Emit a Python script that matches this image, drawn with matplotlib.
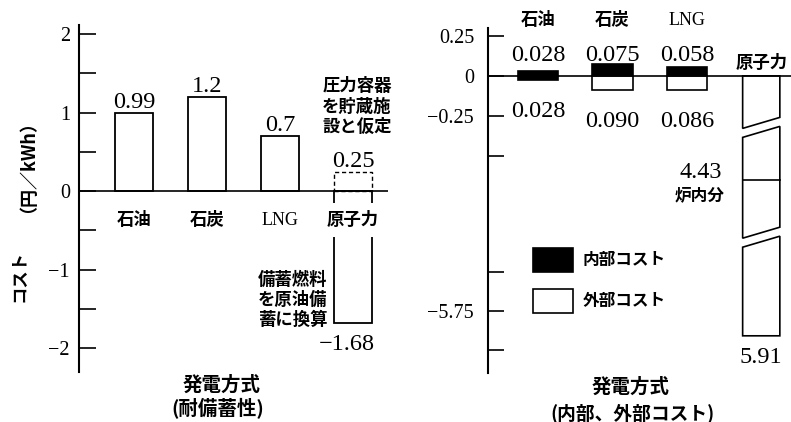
import numpy as np
import matplotlib
matplotlib.use('Agg')
import matplotlib.pyplot as plt
from matplotlib.patches import Polygon, Patch
from matplotlib.transforms import IdentityTransform
from matplotlib.font_manager import FontProperties

# ---------------- data ----------------
left_categories = ['石油', '石炭', 'LNG', '原子力']
left_values = [0.99, 1.2, 0.7, -1.68]
nuclear_storage_value = 0.25
left_yticks = [-2, -1.5, -1, -0.5, 0, 0.5, 1, 1.5, 2]
left_yticklabels = ['−2', '', '−1', '', '0', '', '1', '', '2']

right_categories = ['石油', '石炭', 'LNG']
internal_cost = [0.028, 0.075, 0.058]
external_cost = [0.028, 0.090, 0.086]
nuclear_label = '原子力'
nuclear_total = 5.91
nuclear_core = 4.43
right_yticks = [0.25, 0, -0.25, -0.5, -5.5, -5.75, -6.0]
right_yticklabels = ['0.25', '0', '−0.25', '', '', '−5.75', '']

# broken-axis scale nodes (value -> vertical pixel position)
scale_vals = [-100.0, -6.15, -5.5, -4.43, -0.5, 0.3, 100.0]
scale_pix = [-373 - 93.85 * 156, -373, -272, -179, -155, -27, -27 + 99.7 * 160]

# ---------------- style ----------------
plt.rcParams['font.family'] = ['Liberation Serif', 'Noto Sans CJK JP', 'DejaVu Sans']
CJK = ['Noto Sans CJK JP', 'DejaVu Sans']
W, H = 791, 422
PT = 0.72  # px -> pt at 100 dpi
NUM = 17.5
TICK = 14.5

fig = plt.figure(figsize=(W / 100, H / 100), dpi=100)


def fx(px):
    return px / W


def fy(py):
    return 1 - py / H


def cjk(size=12.5, **kw):
    return dict(family=CJK, weight='bold', fontsize=size, **kw)


# ================= LEFT PANEL =================
axL = fig.add_axes([fx(79), fy(372), fx(388) - fx(79), fy(25) - fy(372)])
axL.set_xlim(-0.753, 3.479)
axL.set_ylim(-2.306, 2.118)
for s in ['top', 'right', 'bottom']:
    axL.spines[s].set_visible(False)
axL.spines['left'].set_linewidth(1.5)
axL.set_xticks([])
axL.set_yticks(left_yticks, left_yticklabels)
axL.tick_params(axis='y', direction='in', length=12, width=1.2, pad=6.5, labelsize=TICK)
axL.axhline(0, color='black', lw=1.2, zorder=3)

xL = np.arange(len(left_categories))
wL = 0.52
axL.bar(xL, left_values, width=wL, facecolor='white', edgecolor='black', lw=1.3, zorder=2)
axL.bar(xL[3], nuclear_storage_value, width=wL, facecolor='none', edgecolor='black',
        lw=1.0, linestyle=(0, (3, 2)), zorder=2)

for i, v in enumerate(left_values[:3]):
    axL.annotate(f'{v}', (xL[i], v), xytext=(0, 5 * PT), textcoords='offset points',
                 ha='center', va='baseline', fontsize=NUM)
axL.annotate(f'{nuclear_storage_value}', (xL[3], nuclear_storage_value), xytext=(0, 5 * PT),
             textcoords='offset points', ha='center', va='baseline', fontsize=NUM)
axL.annotate(f'{left_values[3]}'.replace('-', '−'), (xL[3], left_values[3]),
             xytext=(-6 * PT, -27.5 * PT), textcoords='offset points',
             ha='center', va='baseline', fontsize=NUM)

for i, c in enumerate(left_categories):
    if c == 'LNG':
        kw = dict(family=['Liberation Serif'], fontsize=13)
    else:
        kw = cjk(12.5)
    bbox = dict(facecolor='white', edgecolor='none', pad=6) if i == 3 else None
    axL.annotate(c, (xL[i], 0), xytext=(0, -29 * PT), textcoords='offset points',
                 ha='center', va='center', bbox=bbox, zorder=5, **kw)

axL.annotate('圧力容器\nを貯蔵施\n設と仮定', (xL[3], nuclear_storage_value),
             xytext=(4 * PT, 65 * PT), textcoords='offset points',
             ha='center', va='center', multialignment='left', linespacing=1.17, **cjk(12.5))
axL.annotate('備蓄燃料\nを原油備\n蓄に換算', (xL[3] - wL / 2, left_values[3]),
             xytext=(-41 * PT, 23 * PT), textcoords='offset points',
             ha='center', va='center', multialignment='left', linespacing=1.17, **cjk(12.5))

fig.text(fx(19), fy(158), '（円／kWh）', rotation=90, ha='center', va='center', **cjk(13))
fig.text(fx(19), fy(276), 'コスト', rotation=90, ha='center', va='center', **cjk(12.5))
fig.text(fx(222), fy(385), '発電方式', ha='center', va='center', **cjk(14))
fig.text(fx(218), fy(408), '(耐備蓄性)', ha='center', va='center', **cjk(14))

# ================= RIGHT PANEL =================
axR = fig.add_axes([fx(488), fy(373), fx(791) - fx(488), fy(28) - fy(373)])


def fwd(v):
    return np.interp(v, scale_vals, scale_pix)


def inv(u):
    return np.interp(u, scale_pix, scale_vals)


axR.set_yscale('function', functions=(fwd, inv))
axR.set_ylim(-6.15, 0.3)
axR.set_xlim(-0.673, 3.40)
for s in ['top', 'right', 'bottom']:
    axR.spines[s].set_visible(False)
axR.spines['left'].set_linewidth(1.5)
axR.set_xticks([])
axR.set_yticks(right_yticks, right_yticklabels)
axR.yaxis.set_minor_locator(matplotlib.ticker.NullLocator())
axR.tick_params(axis='y', direction='in', length=11.5, width=1.2, pad=10, labelsize=TICK)

xR = np.arange(len(right_categories))
wR = 0.54
ext_colors = ['black', 'white', 'white']
axR.bar(xR, internal_cost, width=wR, color='black', edgecolor='black', lw=1.2, zorder=2)
axR.bar(xR, [-e for e in external_cost], width=wR, color=ext_colors, edgecolor='black',
        lw=1.2, zorder=2)
axR.axhline(0, color='black', lw=1.2, zorder=3)

for i, c in enumerate(right_categories):
    if c == 'LNG':
        kw = dict(family=['Liberation Serif'], fontsize=13)
    else:
        kw = cjk(12.5)
    axR.text(xR[i], 1.023, c, transform=axR.get_xaxis_transform(), ha='center',
             va='center', **kw)
    axR.annotate(f'{internal_cost[i]:.3f}', (xR[i], 0), xytext=(0, 15 * PT),
                 textcoords='offset points', ha='center', va='baseline', fontsize=NUM)
    axR.annotate(f'{external_cost[i]:.3f}', (xR[i], -external_cost[i]), xytext=(0, -37 * PT),
                 textcoords='offset points', ha='center', va='baseline', fontsize=NUM)

# nuclear bar with axis-break cuts
xn = len(right_categories)
wn = 0.50
fig.canvas.draw()
T = axR.transData
X0, Ytop = T.transform((xn - wn / 2, 0))
X1, _ = T.transform((xn + wn / 2, 0))
_, Ybot = T.transform((xn, -nuclear_total))
_, B1 = T.transform((xn, -0.323))
_, B2 = T.transform((xn, -5.095))
sl, g = 5.5, 4.5
pieces = [
    [(X0, Ytop), (X1, Ytop), (X1, B1 + sl + g), (X0, B1 - sl + g)],
    [(X0, B1 - sl - g), (X1, B1 + sl - g), (X1, B2 + sl + g), (X0, B2 - sl + g)],
    [(X0, B2 - sl - g), (X1, B2 + sl - g), (X1, Ybot), (X0, Ybot)],
]
for p in pieces:
    axR.add_patch(Polygon(p, closed=True, transform=IdentityTransform(), facecolor='white',
                          edgecolor='black', lw=1.2, zorder=2, clip_on=False))
axR.plot([xn - wn / 2, xn + wn / 2], [-nuclear_core, -nuclear_core], color='black', lw=1.2,
         zorder=4)

axR.annotate(nuclear_label, (xn, 0), xytext=(0, 13 * PT), textcoords='offset points',
             ha='center', va='center', **cjk(12.5))
axR.annotate(f'{nuclear_core}', (xn - wn / 2, -nuclear_core), xytext=(-21 * PT, 2 * PT),
             textcoords='offset points', ha='right', va='baseline', fontsize=NUM)
axR.annotate('炉内分', (xn - wn / 2, -nuclear_core), xytext=(-18 * PT, -16 * PT),
             textcoords='offset points', ha='right', va='center', **cjk(12))
axR.annotate(f'{nuclear_total}', (xn, -nuclear_total), xytext=(0, -27 * PT),
             textcoords='offset points', ha='center', va='baseline', fontsize=NUM)

leg = axR.legend(handles=[Patch(facecolor='black', edgecolor='black', lw=1.2),
                          Patch(facecolor='white', edgecolor='black', lw=1.2)],
                 labels=['内部コスト', '外部コスト'], loc='upper left',
                 bbox_to_anchor=(fx(533), fy(248)), bbox_transform=fig.transFigure,
                 frameon=False, borderpad=0, borderaxespad=0, handlelength=2.4,
                 handleheight=1.8, labelspacing=1.05, handletextpad=0.6,
                 prop=FontProperties(family=CJK, weight='bold', size=12))

fig.text(fx(631), fy(387), '発電方式', ha='center', va='center', **cjk(14))
fig.text(fx(633), fy(413), '(内部、外部コスト)', ha='center', va='center', **cjk(13.5))

fig.savefig('out.png', dpi=100)
